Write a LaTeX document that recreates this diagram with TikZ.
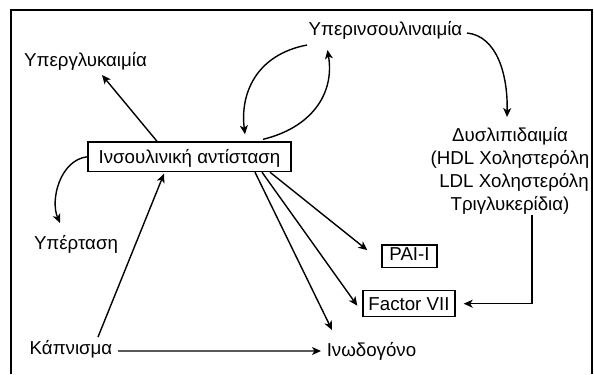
\documentclass[tikz,border=0pt]{standalone}
\usepackage{fontspec}
\setmainfont{Liberation Sans}
\usetikzlibrary{arrows.meta}
\begin{document}
\begin{tikzpicture}[x=1bp,y=-1bp,
  every node/.style={font=\fontsize{18.7bp}{23bp}\selectfont, inner sep=0pt},
  txt/.style={anchor=base},
  boxed/.style={draw, line width=1.4bp, anchor=base, inner xsep=0pt, inner ysep=0pt},
  conn/.style={line width=1.4bp, -{Stealth[length=9bp,width=8bp,inset=2.5bp]}},
  plain/.style={line width=1.4bp}]
\useasboundingbox (0,0) rectangle (594,374);
\draw[plain] (11,374) -- (11,10) -- (592,10) -- (592,374);

\node[txt] (hg) at (85.5,66) {Υπεργλυκαιμία};
\node[txt] (hi) at (385.5,35) {Υπερινσουλιναιμία};
\node[boxed, minimum width=203bp, text height=21bp, text depth=8.5bp] (ir) at (189.5,163) {Ινσουλινική αντίσταση};
\node[txt, align=center] (dl) at (510,210.5) {Δυσλιπιδαιμία\\(HDL Χοληστερόλη\\\hspace*{8bp}LDL Χοληστερόλη\\Τριγλυκερίδια)};
\node[txt] (ht) at (76,249.5) {Υπέρταση};
\node[boxed, minimum width=55bp, text height=15bp, text depth=7.3bp] (pai) at (409.5,260) {PAI-I};
\node[boxed, minimum width=92bp, text height=20bp, text depth=6bp] (f7) at (409,310.7) {Factor VII};
\node[txt] (sm) at (71,354) {Κάπνισμα};
\node[txt] (fb) at (371.5,356) {Ινωδογόνο};

\draw[conn] ([xshift=-32.5bp]ir.north) -- ([xshift=16.5bp,yshift=-9bp]hg.base);
\draw[conn] ([xshift=73.5bp,yshift=2bp]ir.north) .. controls (310,128) and (335,95) .. ([xshift=-58bp,yshift=-15bp]hi.base);
\draw[conn] ([xshift=-78.5bp,yshift=-10bp]hi.base) .. controls (255,55) and (240,95) .. ([xshift=55.5bp,yshift=7bp]ir.north);
\draw[conn] ([xshift=81.5bp,yshift=2bp]hi.base) .. controls (497,36) and (508,75) .. ([xshift=-3bp,yshift=93.5bp]dl.base);
\draw[conn] (ir.west) .. controls (60,160) and (50,200) .. ([xshift=-16bp,yshift=26.5bp]ht.base);
\draw[conn] ([xshift=27bp,yshift=17bp]sm.base) -- ([xshift=-25.5bp,yshift=-1.5bp]ir.south);
\draw[conn] ([xshift=47bp,yshift=3bp]sm.base) -- ([xshift=-50.5bp,yshift=5bp]fb.base);
\draw[conn] ([xshift=80.5bp]ir.south) -- ([xshift=-14bp,yshift=6bp]pai.west);
\draw[conn] ([xshift=72.5bp]ir.south) -- ([xshift=-5bp,yshift=-2bp]f7.west);
\draw[conn] ([xshift=65.5bp]ir.south) -- ([xshift=-39.5bp,yshift=26bp]fb.base);
\draw[conn] ([xshift=22bp]dl.south) |- ([xshift=8bp]f7.east);
\end{tikzpicture}
\end{document}
